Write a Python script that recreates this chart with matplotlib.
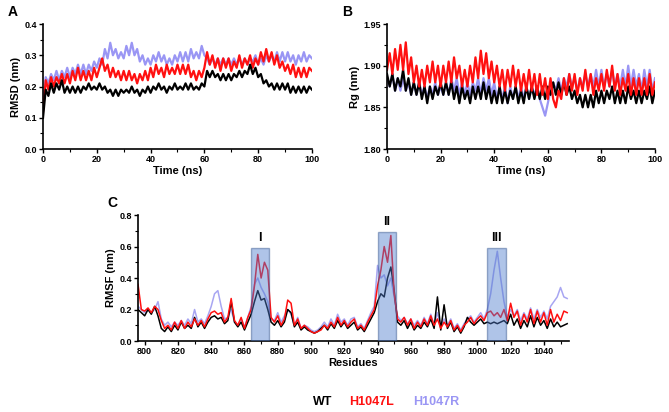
import numpy as np
import matplotlib
matplotlib.use("Agg")
import matplotlib.pyplot as plt
from matplotlib.patches import Rectangle
from matplotlib.ticker import MultipleLocator

plt.rcParams['font.family'] = ['Liberation Sans', 'DejaVu Sans']
plt.rcParams['font.weight'] = 'bold'

# ---- data ----
time_ns = np.arange(0, 101)

rmsd_wt = [0.10, 0.19, 0.17, 0.21, 0.18, 0.21, 0.19, 0.22, 0.18, 0.20,
           0.18, 0.20, 0.18, 0.20, 0.18, 0.20, 0.19, 0.21, 0.19, 0.20,
           0.19, 0.21, 0.19, 0.20, 0.18, 0.19, 0.17, 0.19, 0.17, 0.19,
           0.18, 0.19, 0.18, 0.20, 0.18, 0.19, 0.17, 0.19, 0.18, 0.20,
           0.18, 0.20, 0.19, 0.21, 0.19, 0.20, 0.18, 0.20, 0.19, 0.21,
           0.19, 0.20, 0.19, 0.21, 0.19, 0.21, 0.19, 0.20, 0.19, 0.21,
           0.20, 0.25, 0.23, 0.25, 0.23, 0.24, 0.22, 0.24, 0.22, 0.24,
           0.22, 0.24, 0.23, 0.25, 0.23, 0.25, 0.24, 0.27, 0.24, 0.26,
           0.23, 0.24, 0.21, 0.22, 0.20, 0.21, 0.19, 0.21, 0.19, 0.21,
           0.19, 0.21, 0.18, 0.20, 0.18, 0.20, 0.18, 0.20, 0.18, 0.20, 0.19]
rmsd_l = [0.12, 0.22, 0.19, 0.23, 0.20, 0.23, 0.21, 0.24, 0.21, 0.24,
          0.21, 0.25, 0.22, 0.26, 0.22, 0.25, 0.22, 0.25, 0.22, 0.26,
          0.23, 0.26, 0.29, 0.25, 0.27, 0.23, 0.26, 0.23, 0.25, 0.22,
          0.25, 0.22, 0.25, 0.22, 0.24, 0.21, 0.24, 0.22, 0.25, 0.22,
          0.26, 0.23, 0.27, 0.24, 0.26, 0.23, 0.27, 0.24, 0.26, 0.24,
          0.27, 0.24, 0.27, 0.24, 0.27, 0.23, 0.25, 0.22, 0.25, 0.23,
          0.26, 0.31, 0.27, 0.30, 0.26, 0.29, 0.25, 0.29, 0.26, 0.29,
          0.25, 0.28, 0.26, 0.30, 0.26, 0.29, 0.27, 0.30, 0.26, 0.29,
          0.27, 0.31, 0.28, 0.32, 0.28, 0.31, 0.27, 0.30, 0.26, 0.28,
          0.25, 0.27, 0.24, 0.27, 0.23, 0.26, 0.23, 0.26, 0.23, 0.26, 0.25]
rmsd_r = [0.13, 0.23, 0.21, 0.24, 0.22, 0.25, 0.22, 0.25, 0.23, 0.26,
          0.23, 0.26, 0.24, 0.27, 0.24, 0.27, 0.24, 0.27, 0.25, 0.28,
          0.26, 0.29, 0.27, 0.32, 0.29, 0.34, 0.30, 0.32, 0.29, 0.31,
          0.29, 0.33, 0.30, 0.34, 0.30, 0.32, 0.28, 0.30, 0.27, 0.29,
          0.27, 0.30, 0.28, 0.31, 0.28, 0.30, 0.27, 0.29, 0.27, 0.30,
          0.28, 0.31, 0.28, 0.31, 0.28, 0.32, 0.29, 0.31, 0.29, 0.33,
          0.30, 0.29, 0.27, 0.29, 0.27, 0.29, 0.27, 0.29, 0.27, 0.29,
          0.27, 0.29, 0.27, 0.29, 0.27, 0.29, 0.27, 0.29, 0.28, 0.30,
          0.27, 0.29, 0.27, 0.30, 0.28, 0.30, 0.28, 0.31, 0.28, 0.31,
          0.28, 0.31, 0.28, 0.30, 0.27, 0.30, 0.28, 0.31, 0.28, 0.30, 0.29]

rg_wt = [1.89, 1.875, 1.89, 1.87, 1.885, 1.875, 1.895, 1.87, 1.885, 1.865,
         1.88, 1.865, 1.88, 1.86, 1.875, 1.855, 1.875, 1.86, 1.875, 1.865,
         1.88, 1.865, 1.88, 1.865, 1.88, 1.86, 1.875, 1.855, 1.875, 1.86,
         1.87, 1.855, 1.875, 1.86, 1.875, 1.86, 1.88, 1.86, 1.875, 1.855,
         1.87, 1.855, 1.875, 1.855, 1.87, 1.855, 1.87, 1.86, 1.875, 1.855,
         1.87, 1.855, 1.875, 1.86, 1.875, 1.86, 1.875, 1.86, 1.875, 1.86,
         1.875, 1.865, 1.88, 1.865, 1.88, 1.865, 1.88, 1.865, 1.875, 1.86,
         1.87, 1.855, 1.865, 1.85, 1.865, 1.85, 1.865, 1.85, 1.87, 1.855,
         1.87, 1.855, 1.87, 1.86, 1.875, 1.855, 1.87, 1.855, 1.87, 1.855,
         1.875, 1.86, 1.87, 1.855, 1.87, 1.855, 1.87, 1.86, 1.875, 1.855, 1.87]
rg_l = [1.895, 1.915, 1.89, 1.92, 1.895, 1.925, 1.895, 1.928, 1.89, 1.91,
        1.88, 1.90, 1.875, 1.895, 1.875, 1.90, 1.88, 1.905, 1.88, 1.90,
        1.875, 1.90, 1.88, 1.905, 1.88, 1.91, 1.885, 1.90, 1.875, 1.895,
        1.875, 1.90, 1.88, 1.91, 1.885, 1.918, 1.89, 1.915, 1.885, 1.905,
        1.88, 1.90, 1.875, 1.895, 1.87, 1.895, 1.875, 1.90, 1.875, 1.895,
        1.87, 1.89, 1.87, 1.895, 1.87, 1.89, 1.865, 1.89, 1.865, 1.885,
        1.86, 1.885, 1.86, 1.85, 1.87, 1.86, 1.885, 1.865, 1.89, 1.87,
        1.89, 1.865, 1.885, 1.87, 1.895, 1.87, 1.89, 1.865, 1.885, 1.87,
        1.89, 1.87, 1.895, 1.875, 1.90, 1.87, 1.89, 1.865, 1.885, 1.87,
        1.89, 1.865, 1.885, 1.865, 1.885, 1.865, 1.885, 1.865, 1.89, 1.865, 1.88]
rg_r = [1.885, 1.875, 1.89, 1.87, 1.885, 1.87, 1.885, 1.87, 1.88, 1.865,
        1.88, 1.865, 1.88, 1.865, 1.875, 1.86, 1.875, 1.865, 1.88, 1.865,
        1.875, 1.865, 1.88, 1.865, 1.885, 1.87, 1.885, 1.865, 1.88, 1.865,
        1.88, 1.865, 1.88, 1.87, 1.885, 1.865, 1.885, 1.87, 1.885, 1.865,
        1.88, 1.86, 1.875, 1.86, 1.875, 1.855, 1.875, 1.86, 1.875, 1.86,
        1.875, 1.86, 1.875, 1.86, 1.875, 1.865, 1.875, 1.86, 1.85, 1.84,
        1.855, 1.87, 1.88, 1.87, 1.885, 1.87, 1.885, 1.875, 1.89, 1.875,
        1.885, 1.87, 1.885, 1.875, 1.89, 1.875, 1.89, 1.875, 1.895, 1.875,
        1.895, 1.875, 1.89, 1.875, 1.895, 1.875, 1.89, 1.875, 1.895, 1.875,
        1.90, 1.875, 1.895, 1.875, 1.89, 1.87, 1.895, 1.875, 1.895, 1.87, 1.885]

residues = np.arange(796, 1055, 2)
rmsf_wt = [0.20, 0.18, 0.16, 0.20, 0.17, 0.22, 0.16, 0.08, 0.06, 0.09,
           0.06, 0.10, 0.07, 0.12, 0.08, 0.10, 0.08, 0.15, 0.09, 0.12,
           0.08, 0.12, 0.15, 0.16, 0.14, 0.15, 0.11, 0.13, 0.25, 0.12,
           0.09, 0.12, 0.07, 0.12, 0.17, 0.25, 0.32, 0.26, 0.27, 0.20,
           0.12, 0.10, 0.13, 0.09, 0.12, 0.20, 0.18, 0.09, 0.12, 0.07,
           0.09, 0.07, 0.06, 0.05, 0.06, 0.08, 0.10, 0.07, 0.11, 0.08,
           0.13, 0.09, 0.12, 0.08, 0.10, 0.12, 0.07, 0.09, 0.06, 0.10,
           0.14, 0.18, 0.25, 0.30, 0.28, 0.40, 0.47, 0.32, 0.12, 0.10,
           0.13, 0.08, 0.12, 0.07, 0.10, 0.08, 0.12, 0.09, 0.14, 0.08,
           0.28, 0.07, 0.23, 0.08, 0.12, 0.06, 0.09, 0.05, 0.09, 0.15,
           0.12, 0.10, 0.12, 0.14, 0.11, 0.12, 0.11, 0.12, 0.11, 0.12,
           0.13, 0.11, 0.17, 0.10, 0.14, 0.08, 0.13, 0.09, 0.16, 0.09,
           0.15, 0.10, 0.13, 0.08, 0.14, 0.09, 0.12, 0.09, 0.10, 0.11]
rmsf_l = [0.36, 0.20, 0.19, 0.21, 0.18, 0.22, 0.20, 0.13, 0.08, 0.10,
          0.07, 0.12, 0.08, 0.13, 0.08, 0.12, 0.09, 0.14, 0.10, 0.13,
          0.09, 0.14, 0.18, 0.19, 0.17, 0.18, 0.12, 0.15, 0.27, 0.13,
          0.10, 0.15, 0.08, 0.15, 0.20, 0.35, 0.55, 0.40, 0.50, 0.45,
          0.15, 0.12, 0.16, 0.10, 0.14, 0.26, 0.24, 0.10, 0.14, 0.08,
          0.10, 0.08, 0.06, 0.05, 0.06, 0.07, 0.10, 0.08, 0.12, 0.09,
          0.15, 0.10, 0.13, 0.09, 0.12, 0.14, 0.08, 0.10, 0.07, 0.12,
          0.16, 0.20, 0.35, 0.45, 0.60, 0.50, 0.67, 0.30, 0.14, 0.12,
          0.15, 0.10, 0.14, 0.08, 0.12, 0.09, 0.14, 0.10, 0.16, 0.10,
          0.14, 0.08, 0.12, 0.09, 0.13, 0.07, 0.10, 0.06, 0.10, 0.12,
          0.15, 0.11, 0.14, 0.16, 0.13, 0.18, 0.19, 0.16, 0.18, 0.15,
          0.20, 0.13, 0.24, 0.15, 0.19, 0.10, 0.17, 0.12, 0.20, 0.11,
          0.19, 0.12, 0.18, 0.10, 0.20, 0.12, 0.17, 0.13, 0.19, 0.18]
rmsf_r = [0.22, 0.20, 0.18, 0.20, 0.18, 0.20, 0.25, 0.14, 0.10, 0.12,
          0.09, 0.12, 0.10, 0.13, 0.10, 0.14, 0.11, 0.20, 0.12, 0.14,
          0.11, 0.16, 0.22, 0.30, 0.32, 0.22, 0.14, 0.15, 0.20, 0.12,
          0.10, 0.14, 0.09, 0.15, 0.22, 0.36, 0.40, 0.34, 0.30, 0.25,
          0.14, 0.13, 0.18, 0.12, 0.16, 0.20, 0.17, 0.10, 0.15, 0.08,
          0.10, 0.09, 0.07, 0.06, 0.07, 0.09, 0.12, 0.09, 0.14, 0.10,
          0.17, 0.12, 0.14, 0.10, 0.14, 0.15, 0.09, 0.11, 0.08, 0.13,
          0.18, 0.22, 0.48, 0.40, 0.42, 0.35, 0.40, 0.28, 0.16, 0.13,
          0.15, 0.11, 0.14, 0.10, 0.13, 0.10, 0.15, 0.11, 0.17, 0.10,
          0.18, 0.09, 0.14, 0.10, 0.14, 0.08, 0.11, 0.07, 0.11, 0.14,
          0.16, 0.12, 0.15, 0.18, 0.14, 0.20, 0.30, 0.45, 0.57, 0.40,
          0.25, 0.15, 0.20, 0.16, 0.20, 0.13, 0.18, 0.14, 0.21, 0.14,
          0.20, 0.15, 0.19, 0.14, 0.22, 0.25, 0.28, 0.34, 0.28, 0.27]

regions = ["I", "II", "III"]
region_start = [864, 940, 1006]
region_end = [875, 951, 1017]
region_top = [0.59, 0.69, 0.59]

names = ["WT", "H1047L", "H1047R"]
c_wt = "black"
c_l = "#ff1010"
c_r = "#9a96f4"

fig = plt.figure(figsize=(6.69, 4.12), dpi=100)


def style(ax):
    ax.spines['top'].set_visible(False)
    ax.spines['right'].set_visible(False)
    for s in ['left', 'bottom']:
        ax.spines[s].set_linewidth(1.2)
    ax.tick_params(which='major', direction='out', length=3, width=1, labelsize=6.5, pad=1.5)
    ax.tick_params(which='minor', direction='out', length=2, width=0.8)
    for lab in ax.get_xticklabels() + ax.get_yticklabels():
        lab.set_fontweight('bold')


# A: RMSD
axA = fig.add_axes([0.0643, 0.6383, 0.402, 0.3034])
axA.plot(time_ns, rmsd_r, color=c_r, lw=1.6)
axA.plot(time_ns, rmsd_l, color=c_l, lw=1.6)
axA.plot(time_ns, rmsd_wt, color=c_wt, lw=1.6)
axA.set_xlim(0, 100)
axA.set_ylim(0, 0.4)
axA.xaxis.set_major_locator(MultipleLocator(20))
axA.xaxis.set_minor_locator(MultipleLocator(10))
axA.yaxis.set_major_locator(MultipleLocator(0.1))
axA.yaxis.set_minor_locator(MultipleLocator(0.05))
axA.yaxis.set_major_formatter(matplotlib.ticker.FormatStrFormatter('%.1f'))
axA.set_xlabel("Time (ns)", fontsize=8, fontweight='bold', labelpad=1)
axA.set_ylabel("RMSD (nm)", fontsize=8, fontweight='bold', labelpad=2)
style(axA)

# B: Rg
axB = fig.add_axes([0.5785, 0.6383, 0.4006, 0.3034])
axB.plot(time_ns, rg_r, color=c_r, lw=1.6)
axB.plot(time_ns, rg_wt, color=c_wt, lw=1.6)
axB.plot(time_ns, rg_l, color=c_l, lw=1.6)
axB.set_xlim(0, 100)
axB.set_ylim(1.80, 1.95)
axB.xaxis.set_major_locator(MultipleLocator(20))
axB.xaxis.set_minor_locator(MultipleLocator(10))
axB.yaxis.set_major_locator(MultipleLocator(0.05))
axB.yaxis.set_minor_locator(MultipleLocator(0.025))
axB.yaxis.set_major_formatter(matplotlib.ticker.FormatStrFormatter('%.2f'))
axB.set_xlabel("Time (ns)", fontsize=8, fontweight='bold', labelpad=1)
axB.set_ylabel("Rg (nm)", fontsize=8, fontweight='bold', labelpad=2)
style(axB)

# C: RMSF
axC = fig.add_axes([0.2063, 0.1723, 0.644, 0.3058])
axC.plot(residues, rmsf_r, color="#a8a6f2", lw=1.1)
axC.plot(residues, rmsf_wt, color=c_wt, lw=1.1)
axC.plot(residues, rmsf_l, color=c_l, lw=1.1)
for lab, x0, x1, top in zip(regions, region_start, region_end, region_top):
    axC.add_patch(Rectangle((x0, 0), x1 - x0, top, facecolor="#4f7ccc", alpha=0.45,
                            edgecolor="#2d4f8a", lw=1.0, zorder=5))
    axC.text((x0 + x1) / 2, top + 0.025, lab, ha='center', va='bottom',
             fontsize=9, fontweight='bold')
axC.set_xlim(796, 1055)
axC.set_ylim(0, 0.8)
axC.xaxis.set_major_locator(MultipleLocator(20))
axC.xaxis.set_minor_locator(MultipleLocator(10))
axC.yaxis.set_major_locator(MultipleLocator(0.2))
axC.yaxis.set_minor_locator(MultipleLocator(0.1))
axC.yaxis.set_major_formatter(matplotlib.ticker.FormatStrFormatter('%.1f'))
axC.set_xlabel("Residues", fontsize=8, fontweight='bold', labelpad=1)
axC.set_ylabel("RMSF (nm)", fontsize=8, fontweight='bold', labelpad=2)
style(axC)

# panel letters
fig.text(0.012, 0.97, "A", fontsize=10, fontweight='bold', va='center')
fig.text(0.511, 0.97, "B", fontsize=10, fontweight='bold', va='center')
fig.text(0.16, 0.507, "C", fontsize=10, fontweight='bold', va='center')

# legend as coloured words
fig.text(0.482, 0.024, names[0], color=c_wt, fontsize=9, fontweight='bold', ha='center', va='center')
fig.text(0.556, 0.024, names[1], color=c_l, fontsize=9, fontweight='bold', ha='center', va='center')
fig.text(0.652, 0.024, names[2], color=c_r, fontsize=9, fontweight='bold', ha='center', va='center')

fig.savefig("out.png", dpi=100)
